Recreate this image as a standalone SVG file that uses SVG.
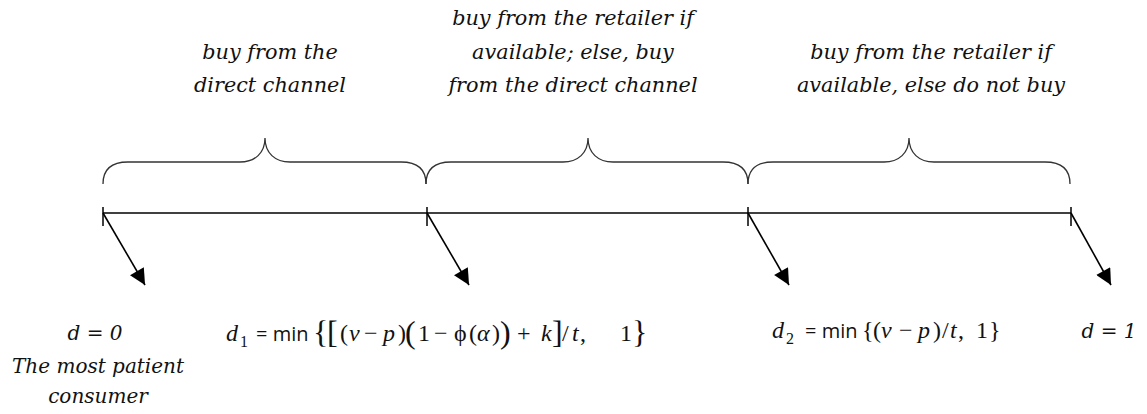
<svg xmlns="http://www.w3.org/2000/svg" width="1147" height="414" viewBox="0 0 1147 414">
<style>
.lbl{font-family:"DejaVu Serif","Liberation Serif",serif;font-style:italic;font-size:20.8px;fill:#111;text-anchor:middle}
.bl{font-family:"DejaVu Serif","Liberation Serif",serif;font-style:italic;font-size:20px;fill:#111;text-anchor:middle}
.f{font-family:"Liberation Serif",serif;font-size:24px;fill:#111}
.i{font-style:italic}
.s{font-family:"Open Sans","Liberation Sans",sans-serif;font-size:20px}
.sub{font-size:16px}
.b{font-size:32px}
.brace{fill:none;stroke:#333;stroke-width:1.3}
.axis{stroke:#000;stroke-width:1.5;fill:none}
.arr{stroke:#000;stroke-width:1.6;fill:none}
</style>
<defs>
<marker id="ah" viewBox="0 0 10 10" refX="10" refY="5" markerWidth="19" markerHeight="16" markerUnits="userSpaceOnUse" orient="auto">
<path d="M0,0 L10,5 L0,10 z" fill="#000"/>
</marker>
</defs>

<g id="timeline">
<line class="axis" x1="103" y1="213" x2="1071" y2="213"/>
<line class="axis" x1="103" y1="207" x2="103" y2="226"/>
<line class="axis" x1="427" y1="207" x2="427" y2="226"/>
<line class="axis" x1="748" y1="207" x2="748" y2="226"/>
<line class="axis" x1="1071" y1="207" x2="1071" y2="226"/>
</g>

<g id="braces">
<path class="brace" d="M103,184 C103,171 110,162 128,162 L240,162 C255,162 265,153 265,138 C265,153 275,162 290,162 L401,162 C419,162 426,171 426,184"/>
<path class="brace" d="M426,184 C426,171 433,162 451,162 L563,162 C578,162 588,153 588,138 C588,153 598,162 613,162 L723,162 C741,162 748,171 748,184"/>
<path class="brace" d="M748,184 C748,171 755,162 773,162 L884,162 C899,162 909,153 909,138 C909,153 919,162 934,162 L1045,162 C1063,162 1070,171 1070,184"/>
</g>

<g id="connectors">
<line class="arr" x1="103" y1="213" x2="145" y2="285" marker-end="url(#ah)"/>
<line class="arr" x1="427" y1="213" x2="469" y2="285" marker-end="url(#ah)"/>
<line class="arr" x1="748" y1="213" x2="789" y2="285" marker-end="url(#ah)"/>
<line class="arr" x1="1071" y1="213" x2="1111" y2="285" marker-end="url(#ah)"/>
</g>

<g id="label-direct">
<text class="lbl" x="270" y="59">buy from the</text>
<text class="lbl" x="270" y="92">direct channel</text>
</g>
<g id="label-retailer-else-direct">
<text class="lbl" x="573" y="25">buy from the retailer if</text>
<text class="lbl" x="573" y="59">available; else, buy</text>
<text class="lbl" x="573" y="92">from the direct channel</text>
</g>
<g id="label-retailer-else-none">
<text class="lbl" x="931" y="59">buy from the retailer if</text>
<text class="lbl" x="931" y="92">available, else do not buy</text>
</g>

<g id="point-d0">
<text class="bl" x="95" y="340">d = 0</text>
<text class="bl" x="98" y="373">The most patient</text>
<text class="bl" x="98" y="403">consumer</text>
</g>

<g id="point-d1">
<text class="f" y="341"><tspan class="i" x="226">d</tspan><tspan class="sub" x="240" y="347">1</tspan><tspan class="s" x="256" y="341">= min</tspan><tspan class="b" x="313" y="343">{</tspan><tspan class="b" x="327" y="343">[</tspan><tspan x="340" y="341">(</tspan><tspan class="i" x="349">v</tspan><tspan x="364">−</tspan><tspan class="i" x="383">p</tspan><tspan x="398">)</tspan><tspan class="b" x="405" y="343">(</tspan><tspan x="418" y="341">1</tspan><tspan x="434">−</tspan><tspan x="454">ϕ</tspan><tspan x="469">(</tspan><tspan class="i" x="477">α</tspan><tspan x="492">)</tspan><tspan class="b" x="500" y="343">)</tspan><tspan x="517" y="341">+</tspan><tspan class="i" x="541">k</tspan><tspan class="b" x="552" y="343">]</tspan><tspan x="562" y="341">/</tspan><tspan class="i" x="572">t</tspan><tspan x="580">,</tspan><tspan x="620">1</tspan><tspan class="b" x="632" y="343">}</tspan></text>
</g>

<g id="point-d2">
<text class="f" y="338"><tspan class="i" x="772">d</tspan><tspan class="sub" x="786" y="344">2</tspan><tspan class="s" x="805" y="338">= min</tspan><tspan x="862">{</tspan><tspan x="873">(</tspan><tspan class="i" x="881">v</tspan><tspan x="899">−</tspan><tspan class="i" x="918">p</tspan><tspan x="933">)</tspan><tspan x="942">/</tspan><tspan class="i" x="950">t</tspan><tspan x="958">,</tspan><tspan x="976">1</tspan><tspan x="989">}</tspan></text>
</g>

<g id="point-dend">
<text class="bl" x="1109" y="338">d = 1</text>
</g>
</svg>
